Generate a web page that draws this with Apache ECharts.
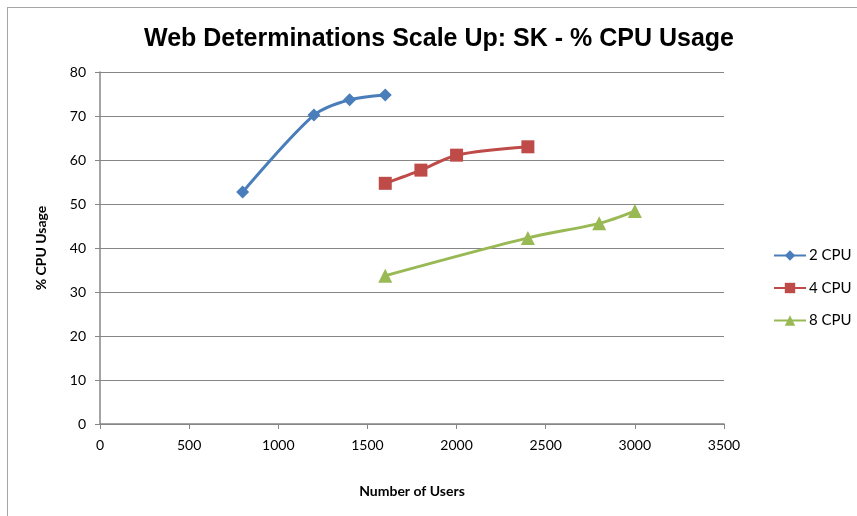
<!DOCTYPE html>
<html>
<head>
<meta charset="utf-8">
<script src="https://cdn.jsdelivr.net/npm/echarts@6/dist/echarts.min.js"></script>
<style>
  html, body { margin: 0; padding: 0; background: #fff; }
  #frame { position: absolute; left: 7px; top: 7px; width: 850px; height: 509px;
           border-left: 1px solid #a6a6a6; border-top: 1px solid #a6a6a6; }
  #chart { width: 857px; height: 516px; position: absolute; left: 0; top: 0; }
</style>
</head>
<body>
<div id="frame"></div>
<div id="chart"></div>
<script>
// users / % CPU usage per configuration
let users2 = [800, 1200, 1400, 1600];
let cpu2 = [52.7, 70.2, 73.7, 74.8];

let users4 = [1600, 1800, 2000, 2400];
let cpu4 = [54.7, 57.7, 61.1, 63.0];

let users8 = [1600, 2400, 2800, 3000];
let cpu8 = [33.7, 42.3, 45.6, 48.4];

let seriesNames = ['2 CPU', '4 CPU', '8 CPU'];

function pairs(xs, ys) {
    let out = [];
    for (let i = 0; i < xs.length; i++) {
        out.push([xs[i], ys[i]]);
    }
    return out;
}

let axisFont = 'Lato, "Open Sans", sans-serif';
let gridColor = '#868686';

let chart = echarts.init(document.getElementById('chart'));

let option = {
    animation: false,
    color: ['#4A7EBB', '#BE4B48', '#98B954'],
    title: {
        text: 'Web Determinations Scale Up: SK - % CPU Usage',
        left: 139,
        top: 22,
        textStyle: {
            fontFamily: '"Liberation Sans Narrow", "Liberation Sans", Arial, sans-serif',
            fontWeight: 'bold',
            fontSize: 25,
            color: '#000'
        }
    },
    legend: {
        orient: 'vertical',
        left: 768,
        top: 243,
        itemGap: 17.5,
        itemWidth: 32,
        itemHeight: 13,
        data: seriesNames,
        textStyle: {
            fontFamily: axisFont,
            fontSize: 15,
            color: '#000',
            padding: [0, 0, 0, -2]
        }
    },
    grid: {
        left: 100,
        right: 133,
        top: 72,
        bottom: 92
    },
    xAxis: {
        type: 'value',
        min: 0,
        max: 3500,
        interval: 500,
        name: 'Number of Users',
        nameLocation: 'middle',
        nameGap: 60,
        nameTextStyle: {
            fontFamily: axisFont,
            fontWeight: 'bold',
            fontSize: 14,
            color: '#000'
        },
        axisLine: { lineStyle: { color: gridColor, width: 1.5 } },
        axisTick: { show: true, inside: false, length: 5, lineStyle: { color: gridColor } },
        axisLabel: {
            fontFamily: axisFont,
            fontSize: 14,
            color: '#000',
            margin: 14,
            formatter: function (v) { return String(v); }
        },
        splitLine: { show: false }
    },
    yAxis: {
        type: 'value',
        min: 0,
        max: 80,
        interval: 10,
        name: '% CPU Usage',
        nameLocation: 'middle',
        nameGap: 52,
        nameTextStyle: {
            fontFamily: axisFont,
            fontWeight: 'bold',
            fontSize: 14,
            color: '#000'
        },
        axisLine: { show: true, lineStyle: { color: gridColor, width: 1.5 } },
        axisTick: { show: true, inside: false, length: 5, lineStyle: { color: gridColor } },
        axisLabel: {
            fontFamily: axisFont,
            fontSize: 14,
            color: '#000',
            margin: 14
        },
        splitLine: { show: true, lineStyle: { color: gridColor, width: 1 } }
    },
    series: [
        {
            name: seriesNames[0],
            type: 'line',
            smooth: 0.3,
            symbol: 'diamond',
            symbolSize: 13,
            lineStyle: { width: 3 },
            data: pairs(users2, cpu2)
        },
        {
            name: seriesNames[1],
            type: 'line',
            smooth: 0.3,
            symbol: 'rect',
            symbolSize: 13,
            lineStyle: { width: 3 },
            data: pairs(users4, cpu4)
        },
        {
            name: seriesNames[2],
            type: 'line',
            smooth: 0.3,
            symbol: 'triangle',
            symbolSize: 14,
            lineStyle: { width: 3 },
            data: pairs(users8, cpu8)
        }
    ]
};

chart.setOption(option);
</script>
</body>
</html>
